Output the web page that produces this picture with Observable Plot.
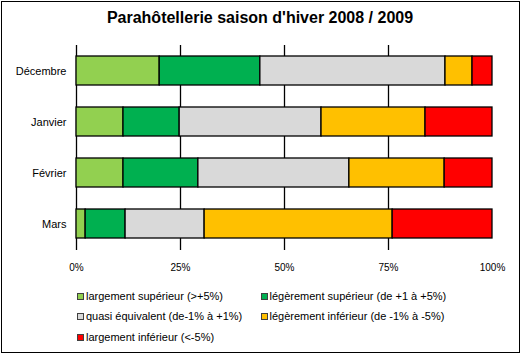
<!DOCTYPE html>
<html>
<head>
<meta charset="utf-8">
<script src="https://cdn.jsdelivr.net/npm/d3@7"></script>
<script src="https://cdn.jsdelivr.net/npm/@observablehq/plot@0.6"></script>
<style>
  html, body { margin: 0; padding: 0; background: #fff; }
  #wrap { position: relative; width: 524px; height: 357px; overflow: hidden; font-family: Arial, "Liberation Sans", sans-serif; }
  #frame { position: absolute; left: 1px; top: 1px; width: 517px; height: 350px; border: 1px solid #000; pointer-events: none; }
  #title { position: absolute; left: 0; top: 9px; width: 520px; text-align: center; font-weight: bold; font-size: 16px; color: #000; }
  #chart { position: absolute; left: 0; top: 0; }
  .leg { position: absolute; font-size: 11px; color: #000; white-space: nowrap; line-height: 13px; }
  .sw { position: absolute; width: 5px; height: 5px; border: 1px solid #404040; }
</style>
</head>
<body>
<div id="wrap">
  <div id="chart"></div>
  <div id="title">Parahôtellerie saison d'hiver 2008 / 2009</div>
  <div id="legend"></div>
  <div id="frame"></div>
</div>
<script>
const months = ["Décembre", "Janvier", "Février", "Mars"];
const categories = [
  "largement supérieur (>+5%)",
  "légèrement supérieur (de +1 à +5%)",
  "quasi équivalent (de-1% à +1%)",
  "légèrement inférieur (de -1% à -5%)",
  "largement inférieur (<-5%)"
];
const colors = ["#92D050", "#00B050", "#D9D9D9", "#FFC000", "#FF0000"];
const largementSuperieur = [20.0, 11.3, 11.3, 2.2];
const legerementSuperieur = [24.2, 13.5, 18.0, 9.6];
const quasiEquivalent = [44.5, 34.1, 36.3, 19.0];
const legerementInferieur = [6.5, 25.0, 22.9, 45.2];
const largementInferieur = [4.8, 16.1, 11.5, 24.0];
const xTicks = [0, 25, 50, 75, 100];
const gridTicks = [25, 50, 75];

const series = [largementSuperieur, legerementSuperieur, quasiEquivalent, legerementInferieur, largementInferieur];
const data = [];
months.forEach((m, i) => {
  series.forEach((s, j) => data.push({month: m, cat: categories[j], value: s[i]}));
});

const chart = Plot.plot({
  width: 524,
  height: 357,
  marginLeft: 76,
  marginRight: 32,
  marginTop: 45,
  marginBottom: 107,
  style: {fontFamily: "Arial, 'Liberation Sans', sans-serif", background: "transparent", color: "#000"},
  x: {domain: [0, 100], ticks: xTicks, tickFormat: d => d + "%", tickSize: 0, tickPadding: 13, label: null},
  y: {domain: months, paddingInner: 0.425, paddingOuter: 0.2125, tickSize: 0, tickPadding: 10, label: null},
  color: {domain: categories, range: colors},
  marks: [
    Plot.ruleX(gridTicks, {stroke: "#000", strokeWidth: 1.3}),
    Plot.ruleX([0], {stroke: "#000", strokeWidth: 1.3}),
    Plot.barX(data, Plot.stackX({x: "value", y: "month", fill: "cat", order: categories, stroke: "#000", strokeWidth: 1.3})),
    Plot.axisX({ticks: xTicks, tickFormat: d => d + "%", tickSize: 0, tickPadding: 13, fontSize: 10, label: null}),
    Plot.axisY({tickSize: 0, tickPadding: 10, fontSize: 11, label: null})
  ]
});
document.getElementById("chart").appendChild(chart);

const legendPos = [
  {x: 77, y: 296.7}, {x: 261, y: 296.7},
  {x: 77, y: 316.7}, {x: 261, y: 316.7},
  {x: 77, y: 337.7}
];
const textOffset = [9, 8.5, 9, 8.5, 9];
const legend = d3.select("#legend");
categories.forEach((c, i) => {
  const p = legendPos[i];
  legend.append("div").attr("class", "sw")
    .style("left", p.x + "px").style("top", (p.y - 3.5) + "px")
    .style("background", colors[i]);
  legend.append("div").attr("class", "leg")
    .style("left", (p.x + textOffset[i]) + "px").style("top", (p.y - 7) + "px")
    .text(c);
});
</script>
</body>
</html>
